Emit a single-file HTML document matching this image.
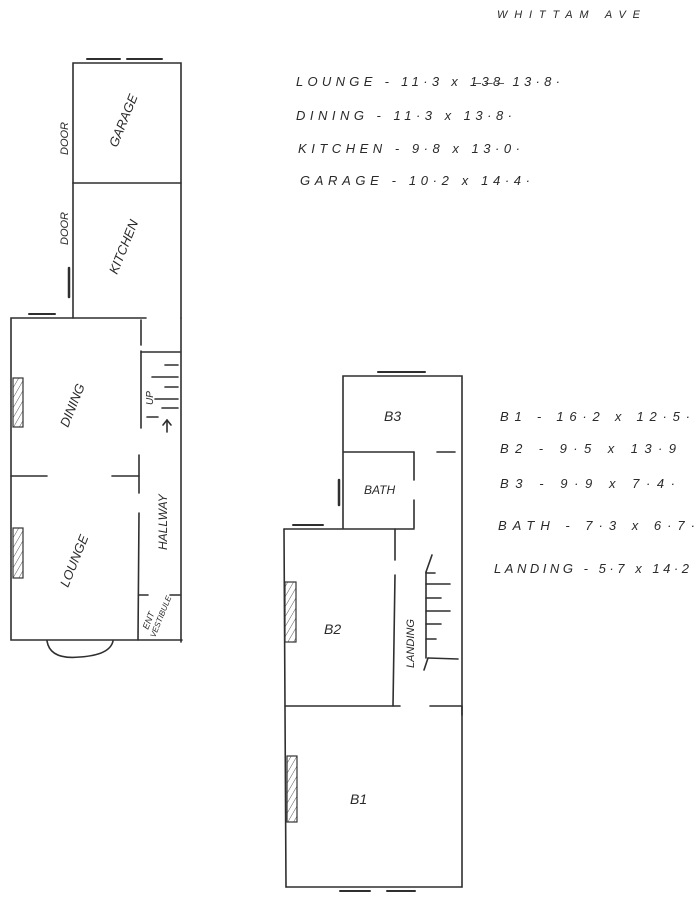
<!DOCTYPE html>
<html><head><meta charset="utf-8"><style>
html,body{margin:0;padding:0;background:#fff;}
svg{display:block;}
text{font-family:"Liberation Sans",sans-serif;font-style:italic;fill:#2a2a2a;}
</style></head><body>
<svg width="700" height="912" viewBox="0 0 700 912" xmlns="http://www.w3.org/2000/svg">
<defs>
<pattern id="h" width="5" height="5" patternUnits="userSpaceOnUse" patternTransform="rotate(30)">
<line x1="0" y1="0" x2="0" y2="5" stroke="#555" stroke-width="1"/></pattern>
</defs>
<g stroke="#2f2f2f" stroke-width="1.6" fill="none" stroke-linecap="round">
<polyline points="73,183 73,63 181,63 181,318"/>
<line x1="73" y1="183" x2="181" y2="183"/>
<line x1="73" y1="183" x2="73" y2="318"/>
<line x1="87" y1="59" x2="120" y2="59" stroke-width="2"/>
<line x1="127" y1="59" x2="162" y2="59" stroke-width="2"/>
<line x1="69" y1="268" x2="69" y2="297" stroke-width="2.5"/>
<line x1="29" y1="314" x2="55" y2="314" stroke-width="2"/>
<polyline points="146,318 11,318 11,640 137,640"/>
<line x1="181" y1="318" x2="181" y2="642"/>
<line x1="141" y1="320" x2="141" y2="345"/>
<line x1="141" y1="351" x2="141" y2="428"/>
<line x1="139" y1="455" x2="139" y2="493"/>
<line x1="139" y1="513" x2="138" y2="640"/>
<line x1="11" y1="476" x2="47" y2="476"/>
<line x1="112" y1="476" x2="139" y2="476"/>
<line x1="138" y1="640" x2="182" y2="640"/>
<line x1="139" y1="595" x2="148" y2="595"/>
<line x1="170" y1="595" x2="180" y2="595"/>
<path d="M47,641 Q50,660 80,657 Q110,655 113,641"/>
<line x1="141" y1="352" x2="180" y2="352"/>
<line x1="165" y1="365" x2="178" y2="365"/>
<line x1="152" y1="377" x2="178" y2="377"/>
<line x1="165" y1="387" x2="178" y2="387"/>
<line x1="155" y1="399" x2="178" y2="399"/>
<line x1="162" y1="408" x2="178" y2="408"/>
<line x1="147" y1="417" x2="158" y2="417"/>
<line x1="167" y1="432" x2="167" y2="420"/>
<polyline points="163,425 167,420 171,425"/>
<polyline points="343,528 343,376 462,376 462,715"/>
<line x1="378" y1="372" x2="425" y2="372" stroke-width="2"/>
<line x1="344" y1="452" x2="414" y2="452"/>
<line x1="414" y1="452" x2="414" y2="480"/>
<line x1="414" y1="500" x2="414" y2="528"/>
<line x1="437" y1="452" x2="455" y2="452"/>
<line x1="339" y1="480" x2="339" y2="505" stroke-width="2.5"/>
<line x1="284" y1="529" x2="414" y2="529"/>
<line x1="293" y1="525" x2="323" y2="525" stroke-width="2"/>
<line x1="395" y1="529" x2="395" y2="560"/>
<line x1="395" y1="575" x2="393" y2="706"/>
<line x1="284" y1="529" x2="286" y2="887"/>
<line x1="285" y1="706" x2="400" y2="706"/>
<line x1="430" y1="706" x2="462" y2="706"/>
<line x1="286" y1="887" x2="462" y2="887"/>
<line x1="462" y1="706" x2="462" y2="887"/>
<line x1="340" y1="891" x2="370" y2="891" stroke-width="2"/>
<line x1="387" y1="891" x2="415" y2="891" stroke-width="2"/>
<line x1="426" y1="572" x2="426" y2="658"/>
<line x1="426" y1="572" x2="432" y2="555"/>
<line x1="428" y1="658" x2="458" y2="659"/>
<line x1="428" y1="658" x2="424" y2="670"/>
<line x1="426" y1="573" x2="435" y2="573"/>
<line x1="426" y1="584" x2="450" y2="584"/>
<line x1="426" y1="598" x2="441" y2="598"/>
<line x1="426" y1="611" x2="450" y2="611"/>
<line x1="426" y1="624" x2="441" y2="624"/>
<line x1="426" y1="639" x2="436" y2="639"/>
</g>
<g stroke="#333" stroke-width="1.2" fill="url(#h)">
<rect x="13" y="378" width="10" height="49"/>
<rect x="13" y="528" width="10" height="50"/>
<rect x="285" y="582" width="11" height="60"/>
<rect x="287" y="756" width="10" height="66"/>
</g>
<g font-size="11">
<text transform="translate(68,155) rotate(-90)">DOOR</text>
<text transform="translate(68,245) rotate(-90)">DOOR</text>
<text transform="translate(117,148) rotate(-68)" font-size="13">GARAGE</text>
<text transform="translate(117,275) rotate(-68)" font-size="13">KITCHEN</text>
<text transform="translate(68,428) rotate(-68)" font-size="13">DINING</text>
<text transform="translate(68,588) rotate(-68)" font-size="13">LOUNGE</text>
<text transform="translate(167,550) rotate(-90)" font-size="12">HALLWAY</text>
<text transform="translate(153,405) rotate(-90)" font-size="10">UP</text>
<text transform="translate(148,630) rotate(-68)" font-size="9">ENT</text>
<text transform="translate(155,638) rotate(-68)" font-size="8">VESTIBULE</text>
<text transform="translate(414,668) rotate(-90)" font-size="11">LANDING</text>
</g>
<g font-size="14">
<text x="384" y="421">B3</text>
<text x="364" y="494" font-size="12">BATH</text>
<text x="324" y="634">B2</text>
<text x="350" y="804">B1</text>
</g>
<g font-size="13" lengthAdjust="spacing">
<text x="497" y="18" font-size="11" textLength="143" lengthAdjust="spacing">WHITTAM AVE</text>
<text x="296" y="86" textLength="264" lengthAdjust="spacing">LOUNGE - 11·3 x 1̶3̶8̶ 13·8·</text>
<text x="296" y="120" textLength="216" lengthAdjust="spacing">DINING - 11·3 x 13·8·</text>
<text x="298" y="153" textLength="222" lengthAdjust="spacing">KITCHEN - 9·8 x 13·0·</text>
<text x="300" y="185" textLength="230" lengthAdjust="spacing">GARAGE - 10·2 x 14·4·</text>
<text x="500" y="421" textLength="190" lengthAdjust="spacing">B1 - 16·2 x 12·5·</text>
<text x="500" y="453" textLength="176" lengthAdjust="spacing">B2 - 9·5 x 13·9</text>
<text x="500" y="488" textLength="175" lengthAdjust="spacing">B3 - 9·9 x 7·4·</text>
<text x="498" y="530" textLength="197" lengthAdjust="spacing">BATH - 7·3 x 6·7·</text>
<text x="494" y="573" textLength="195" lengthAdjust="spacing">LANDING - 5·7 x 14·2</text>
</g>
</svg>
</body></html>
